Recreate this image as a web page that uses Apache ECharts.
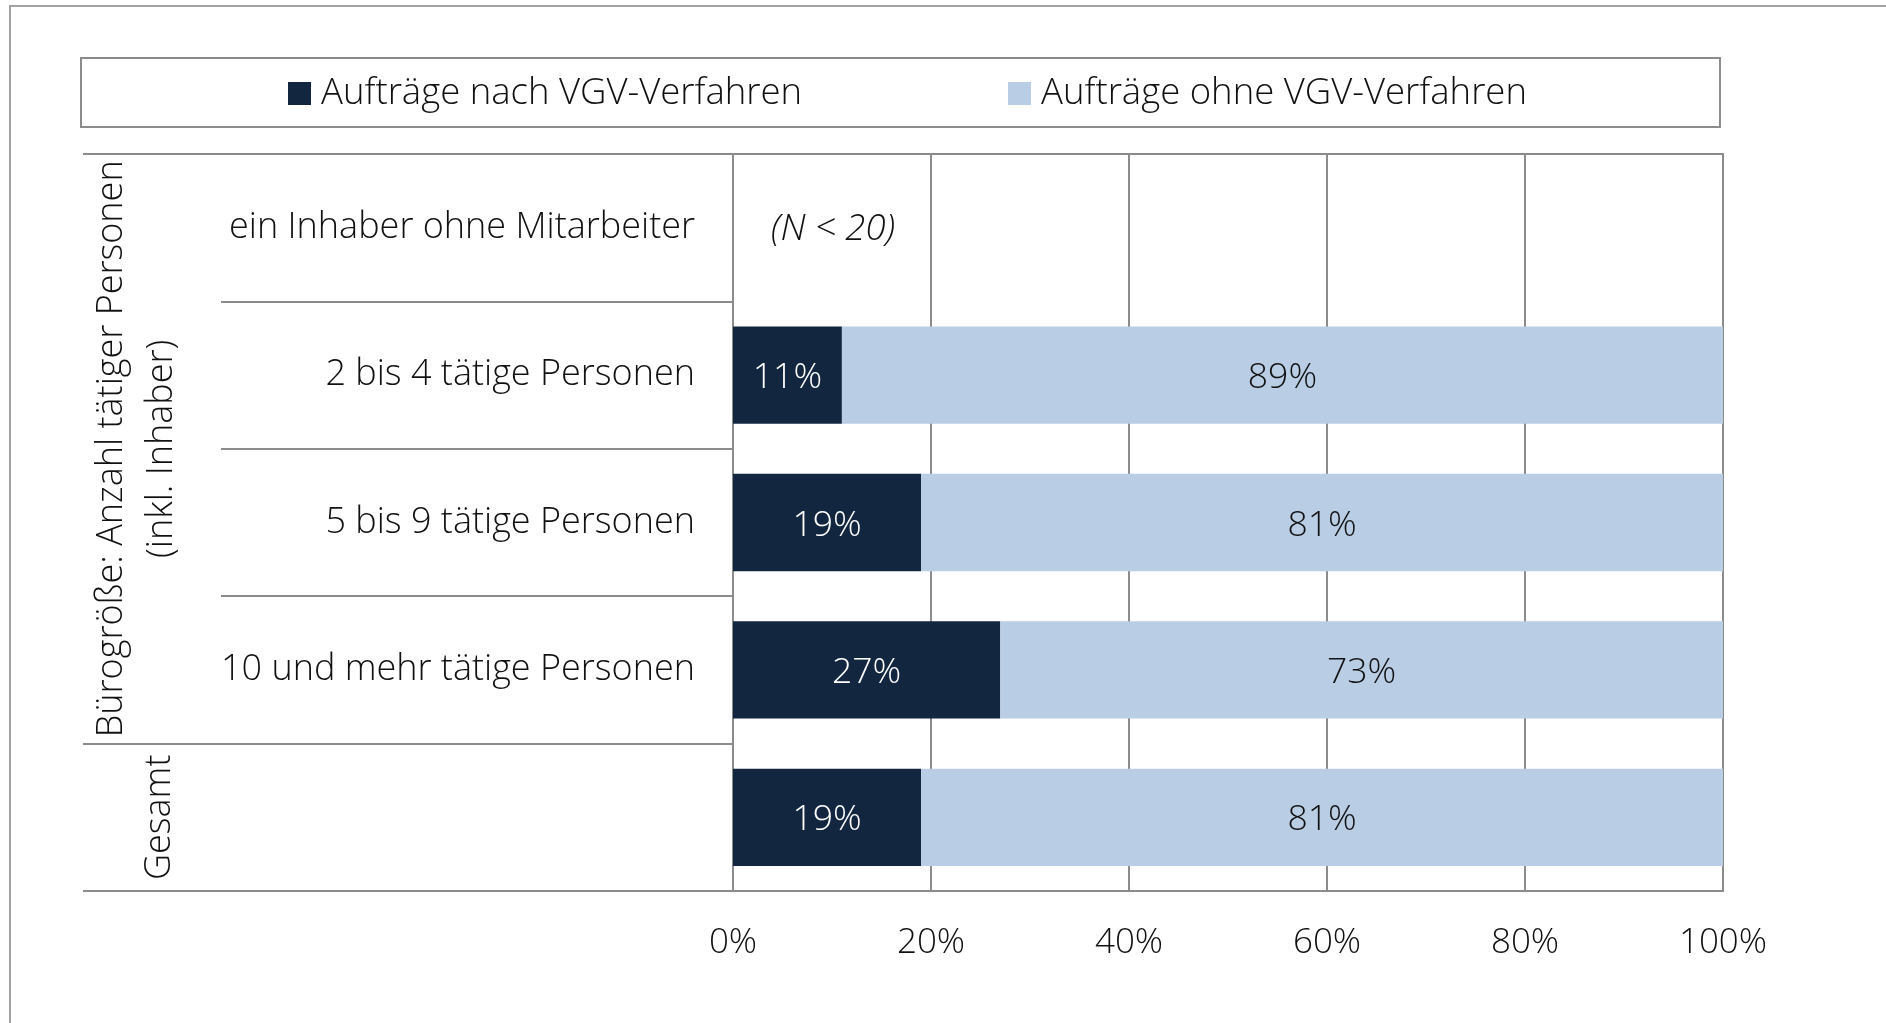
<!DOCTYPE html>
<html>
<head>
<meta charset="utf-8">
<script src="https://cdn.jsdelivr.net/npm/echarts@6/dist/echarts.min.js"></script>
<style>
  html, body { margin: 0; padding: 0; background: #fff; }
  #chart { width: 1886px; height: 1023px; }
</style>
</head>
<body>
<div id="chart"></div>
<script>
// Rows of the chart (top to bottom)
const categories = [
  'ein Inhaber ohne Mitarbeiter',
  '2 bis 4 tätige Personen',
  '5 bis 9 tätige Personen',
  '10 und mehr tätige Personen',
  ''
];
// Share of contracts (%)
const nachVGV = [0, 11, 19, 27, 19];
const ohneVGV = [null, 89, 81, 73, 81];
// Rows without results (too few cases)
const rowNotes = ['(N < 20)', '', '', '', ''];
// Value axis ticks (%)
const xTicks = [0, 20, 40, 60, 80, 100];

const seriesNames = ['Aufträge nach VGV-Verfahren', 'Aufträge ohne VGV-Verfahren'];
const groupTitle = 'Bürogröße: Anzahl tätiger Personen\n(inkl. Inhaber)';
const totalTitle = 'Gesamt';

const FONT = '"Open Sans", "Noto Sans", sans-serif';
const DARK = '#132640';
const LIGHT = '#b9cde4';
const LINE = '#8c8c8c';
const TEXT = '#111111';

// plot frame
const G = { left: 733, top: 154, width: 990, height: 737 };
const band = G.height / categories.length;

const chart = echarts.init(document.getElementById('chart'), null, { renderer: 'canvas' });

const noteLabel = (i) => rowNotes[i] ? {
  show: true, position: 'right', distance: 38, offset: [0, 2],
  formatter: rowNotes[i], color: TEXT, fontStyle: 'italic',
  fontSize: 36.5, fontFamily: FONT, fontWeight: 300
} : undefined;

const legendText = { fontSize: 36.5, fontFamily: FONT, fontWeight: 300, color: TEXT, padding: [0, 0, 0, 5] };

const option = {
  backgroundColor: '#ffffff',
  animation: false,
  textStyle: { fontFamily: FONT },
  grid: {
    left: G.left, top: G.top, width: G.width, height: G.height,
    show: true, borderColor: LINE, borderWidth: 2, backgroundColor: 'transparent'
  },
  legend: [
    {
      data: [seriesNames[0]], left: 288, top: 75, padding: 0,
      icon: 'rect', itemWidth: 23, itemHeight: 23, textStyle: legendText
    },
    {
      data: [seriesNames[1]], left: 1008, top: 75, padding: 0,
      icon: 'rect', itemWidth: 23, itemHeight: 23, textStyle: legendText
    }
  ],
  xAxis: {
    type: 'value',
    min: xTicks[0], max: xTicks[xTicks.length - 1], interval: xTicks[1] - xTicks[0],
    axisLine: { show: false },
    axisTick: { show: false },
    splitLine: { show: true, lineStyle: { color: LINE, width: 2 } },
    axisLabel: {
      formatter: '{value}%', margin: 35,
      fontSize: 35, fontFamily: FONT, fontWeight: 300, color: TEXT
    }
  },
  yAxis: [
    {
      type: 'category', data: categories, inverse: true, position: 'left',
      axisLine: { show: true, lineStyle: { color: LINE, width: 2 } },
      axisTick: { show: true, interval: 0, length: 512, lineStyle: { color: LINE, width: 2 } },
      axisLabel: {
        margin: 38, padding: [5, 0, 0, 0],
        fontSize: 36, fontFamily: FONT, fontWeight: 300, color: TEXT
      }
    },
    {
      // group separators reaching the outer label column
      type: 'category', data: categories, inverse: true, position: 'left',
      axisLine: { show: false },
      axisLabel: { show: false },
      axisTick: {
        show: true, length: 650,
        interval: (idx) => idx === 0 || idx === categories.length - 1,
        lineStyle: { color: LINE, width: 2 }
      }
    }
  ],
  series: [
    {
      name: seriesNames[0], type: 'bar', stack: 'total', barCategoryGap: '34%',
      itemStyle: { color: DARK },
      label: {
        show: true, position: 'inside', offset: [0, 3],
        formatter: (p) => p.value ? p.value + '%' : '',
        color: '#ffffff', fontSize: 35.5, fontFamily: FONT, fontWeight: 300
      },
      data: nachVGV.map((v, i) => {
        const l = noteLabel(i);
        return l ? { value: v, label: l } : v;
      })
    },
    {
      name: seriesNames[1], type: 'bar', stack: 'total', barCategoryGap: '34%',
      itemStyle: { color: LIGHT },
      label: {
        show: true, position: 'inside', offset: [0, 3], formatter: '{c}%',
        color: TEXT, fontSize: 35.5, fontFamily: FONT, fontWeight: 300
      },
      data: ohneVGV
    }
  ],
  graphic: [
    // outer frame
    { type: 'rect', silent: true, shape: { x: 10, y: 6, width: 2000, height: 2000 },
      style: { fill: 'none', stroke: '#a3a3a3', lineWidth: 2 } },
    // legend frame
    { type: 'rect', silent: true, shape: { x: 81, y: 58, width: 1639, height: 69 },
      style: { fill: 'none', stroke: LINE, lineWidth: 2 } },
    // group titles
    { type: 'text', silent: true, x: 137, y: G.top + band * 2, rotation: Math.PI / 2,
      style: { text: groupTitle, align: 'center', verticalAlign: 'middle',
        font: '300 36px ' + FONT, fill: TEXT, lineHeight: 50 } },
    { type: 'text', silent: true, x: 160, y: G.top + band * 4.5, rotation: Math.PI / 2,
      style: { text: totalTitle, align: 'center', verticalAlign: 'middle',
        font: '300 36px ' + FONT, fill: TEXT } }
  ]
};

chart.setOption(option);
</script>
</body>
</html>
